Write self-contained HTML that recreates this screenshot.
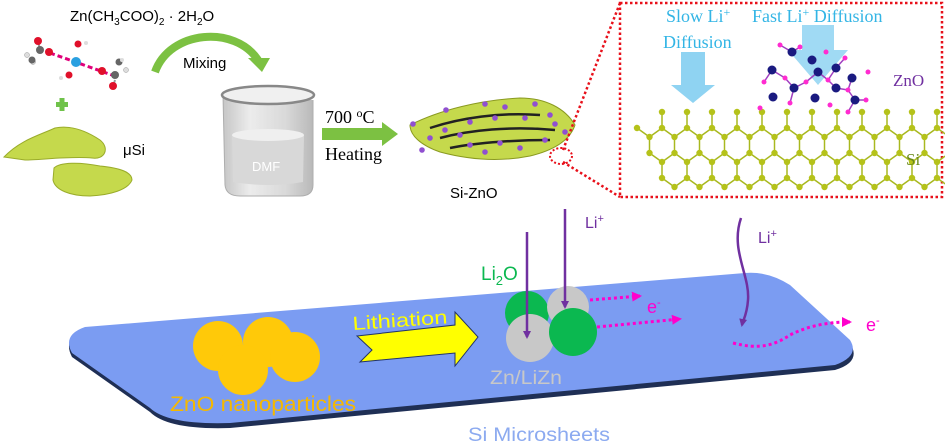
<!DOCTYPE html>
<html><head><meta charset="utf-8"><style>
html,body{margin:0;padding:0;background:#fff;}
svg{display:block;}
.a{font-family:"Liberation Sans",sans-serif;}
.t{font-family:"Liberation Serif",serif;}
</style></head><body>
<svg id="s" width="945" height="446" viewBox="0 0 945 446" xmlns="http://www.w3.org/2000/svg">
<defs>
<linearGradient id="gb" x1="0" x2="1"><stop offset="0" stop-color="#b8b8b8"/><stop offset=".3" stop-color="#e8e8e8"/><stop offset=".7" stop-color="#d0d0d0"/><stop offset="1" stop-color="#a8a8a8"/></linearGradient>
<marker id="pa" markerWidth="8" markerHeight="8" refX="6" refY="4" orient="auto" markerUnits="userSpaceOnUse"><path d="M0,0 L8,4 L0,8 Z" fill="#7030a0"/></marker>
<marker id="ma" markerWidth="10" markerHeight="10" refX="8" refY="5" orient="auto" markerUnits="userSpaceOnUse"><path d="M0,0 L10,5 L0,10 Z" fill="#ff00cc"/></marker>
</defs>

<text x="70" y="21" class="a" font-size="15" fill="#000">Zn(CH<tspan font-size="10" dy="4">3</tspan><tspan dy="-4">COO)</tspan><tspan font-size="10" dy="4">2</tspan><tspan dy="-4"> · 2H</tspan><tspan font-size="10" dy="4">2</tspan><tspan dy="-4">O</tspan></text>
<g>
<line x1="50" y1="53" x2="112" y2="75" stroke="#e0007a" stroke-width="3" stroke-dasharray="5,3"/>
<line x1="40" y1="50" x2="38" y2="41" stroke="#999" stroke-width="2"/>
<line x1="115" y1="80" x2="113" y2="87" stroke="#999" stroke-width="2"/>
<circle cx="38" cy="41" r="4" fill="#e0102a"/>
<circle cx="40" cy="50" r="4" fill="#666"/>
<circle cx="49" cy="52" r="4" fill="#e0102a"/>
<circle cx="27" cy="55" r="2.5" fill="#ddd" stroke="#999" stroke-width=".5"/>
<circle cx="33" cy="62" r="2.5" fill="#ddd" stroke="#999" stroke-width=".5"/>
<circle cx="32" cy="60" r="3.5" fill="#666"/>
<circle cx="76" cy="62" r="5" fill="#2aa0e0"/>
<circle cx="78" cy="44" r="3.5" fill="#e0102a"/>
<circle cx="86" cy="43" r="2" fill="#ddd"/>
<circle cx="69" cy="75" r="3.5" fill="#e0102a"/>
<circle cx="61" cy="78" r="2" fill="#ddd"/>
<circle cx="102" cy="71" r="4" fill="#e0102a"/>
<circle cx="115" cy="75" r="4" fill="#666"/>
<circle cx="113" cy="86" r="4" fill="#e0102a"/>
<circle cx="119" cy="62" r="3.5" fill="#666"/>
<circle cx="126" cy="70" r="2.5" fill="#ddd" stroke="#999" stroke-width=".5"/>
<circle cx="122" cy="60" r="2" fill="#ddd"/>
</g>
<rect x="56" y="102" width="12" height="5" fill="#6fc24a"/><rect x="59.5" y="98" width="5" height="13" fill="#6fc24a"/>
<path d="M4,157 C20,140 40,135 55,128 C70,125 85,130 100,140 C110,148 105,160 92,158 C70,156 40,160 25,160 Z" fill="#c5d94c" stroke="#9aac2a" stroke-width="1"/>
<path d="M54,168 C60,162 80,162 100,166 C120,168 132,172 132,180 C128,190 110,195 90,196 C70,196 55,190 53,180 Z" fill="#c5d94c" stroke="#9aac2a" stroke-width="1"/>
<text x="123" y="155" class="a" font-size="15">μSi</text>

<path d="M155,72 C170,30 235,25 258,60" fill="none" stroke="#7cc142" stroke-width="8"/>
<path d="M248,58 L270,58 L262,72 Z" fill="#7cc142"/>
<text x="183" y="68" class="a" font-size="15">Mixing</text>

<path d="M223,95 L225,185 Q226,196 240,196 L300,196 Q313,196 313,185 L313,100" fill="url(#gb)" opacity=".8" stroke="#999"/>
<ellipse cx="268" cy="95" rx="46" ry="9" fill="#f0f0f0" stroke="#888" stroke-width="2.5"/>
<path d="M232,135 Q268,128 304,135 L303,182 Q268,188 233,182 Z" fill="#d8d8d8"/>
<ellipse cx="268" cy="135" rx="36" ry="6" fill="#efefef"/>
<text x="252" y="171" class="a" font-size="13" fill="#fff">DMF</text>

<text x="325" y="123" class="t" font-size="18">700 <tspan font-size="12" dy="-6">o</tspan><tspan dy="6">C</tspan></text>
<rect x="322" y="128" width="62" height="12" fill="#7cc142"/>
<path d="M382,122 L398,134 L382,146 Z" fill="#7cc142"/>
<text x="325" y="160" class="t" font-size="18">Heating</text>

<path d="M410,125 C440,110 480,100 520,98 C545,98 565,108 575,125 C570,140 555,150 530,156 C500,162 470,160 440,152 C420,145 410,135 410,125 Z" fill="#c5d94c" stroke="#8a9a20"/>
<path d="M430,128 C460,118 500,112 540,115 M440,138 C470,130 510,126 555,130 M450,148 C480,142 520,140 550,140" stroke="#222" stroke-width="2.5" fill="none"/>
<g fill="#9050d0" id="pd"></g>
<text x="450" y="198" class="a" font-size="15">Si-ZnO</text>

<rect x="620" y="3" width="322" height="194" fill="none" stroke="#e8101a" stroke-width="2.5" stroke-dasharray="2.5,2.5"/>
<line x1="563" y1="150" x2="620" y2="3" stroke="#e8101a" stroke-width="2.5" stroke-dasharray="2.5,2.5"/>
<line x1="563" y1="162" x2="620" y2="197" stroke="#e8101a" stroke-width="2.5" stroke-dasharray="2.5,2.5"/>
<ellipse cx="561" cy="156" rx="11" ry="8" fill="none" stroke="#e8101a" stroke-width="2" stroke-dasharray="2,2"/>

<path d="M681,52 L705,52 L705,85 L715,85 L693,103 L671,85 L681,85 Z" fill="#8fd3f2"/>
<path d="M802,25 L834,25 L834,50 L848,50 L818,85 L788,50 L802,50 Z" fill="#8fd3f2" opacity=".85"/>
<g id="lat"></g>
<g id="zno"></g>
<text x="666" y="22" class="t" font-size="18" fill="#33b5e5">Slow Li<tspan font-size="12" dy="-6">+</tspan></text>
<text x="663" y="48" class="t" font-size="18" fill="#33b5e5">Diffusion</text>
<text x="752" y="22" class="t" font-size="18" fill="#33b5e5">Fast Li<tspan font-size="12" dy="-6">+</tspan><tspan dy="6"> Diffusion</tspan></text>
<text x="893" y="86" class="t" font-size="17" fill="#7030a0">ZnO</text>
<text x="906" y="165" class="t" font-size="17" fill="#6a8a1a">Si</text>

<path d="M85,330 L745,276 Q768,274 790,288 L850,343 Q862,362 835,370 L230,428 Q168,430 150,412 L72,357 Q62,338 85,330 Z" fill="#1f2f55"/>
<path d="M85,327 L745,273 Q768,271 790,285 L850,340 Q860,356 835,365 L230,423 Q168,425 150,408 L72,353 Q62,335 85,327 Z" fill="#7b9cf2"/>

<g fill="#ffc909">
<circle cx="218" cy="346" r="25"/><circle cx="268" cy="342" r="25"/><circle cx="295" cy="357" r="25"/><circle cx="243" cy="370" r="25"/>
</g>
<text x="170" y="411" class="a" font-size="21" fill="#f5b800" textLength="186" lengthAdjust="spacingAndGlyphs">ZnO nanoparticles</text>

<path d="M357,336 L455,325 L455,312 L478,337 L455,366 L455,353 L360,362 L372,350 Z" fill="#ffff00" stroke="#223366" stroke-width="1"/>
<text x="353" y="330" class="a" font-size="19" fill="#ffff00" transform="rotate(-4 353 330)" textLength="95" lengthAdjust="spacingAndGlyphs">Lithiation</text>

<circle cx="527" cy="313" r="22" fill="#0bb850"/>
<circle cx="568" cy="307" r="21" fill="#c8c8c8"/>
<circle cx="530" cy="338" r="24" fill="#c8c8c8"/>
<circle cx="573" cy="332" r="24" fill="#0bb850"/>
<text x="481" y="280" class="a" font-size="19" fill="#0bb850">Li<tspan font-size="13" dy="5">2</tspan><tspan dy="-5">O</tspan></text>
<text x="490" y="384" class="a" font-size="19" fill="#c8c8c8" textLength="72" lengthAdjust="spacingAndGlyphs">Zn/LiZn</text>

<line x1="527" y1="232" x2="527" y2="337" stroke="#7030a0" stroke-width="2.5" marker-end="url(#pa)"/>
<line x1="565" y1="209" x2="565" y2="307" stroke="#7030a0" stroke-width="2.5" marker-end="url(#pa)"/>
<text x="585" y="228" class="a" font-size="16" fill="#7030a0">Li<tspan font-size="11" dy="-6">+</tspan></text>
<path d="M741,218 C730,250 750,275 748,300 C747,315 743,320 742,325" fill="none" stroke="#7030a0" stroke-width="2.5" marker-end="url(#pa)"/>
<text x="758" y="243" class="a" font-size="16" fill="#7030a0">Li<tspan font-size="11" dy="-6">+</tspan></text>

<g stroke="#ff00cc" stroke-width="3" stroke-dasharray="3,3" fill="none">
<line x1="590" y1="300" x2="640" y2="296" marker-end="url(#ma)"/>
<line x1="597" y1="327" x2="680" y2="319" marker-end="url(#ma)"/>
<path d="M733,343 C760,350 775,345 790,335 C810,325 830,322 850,322" marker-end="url(#ma)"/>
</g>
<text x="647" y="313" class="a" font-size="18" fill="#ff00cc">e<tspan font-size="11" dy="-7">-</tspan></text>
<text x="866" y="331" class="a" font-size="18" fill="#ff00cc">e<tspan font-size="11" dy="-7">-</tspan></text>

<text x="468" y="441" class="a" font-size="19" fill="#8caaf0" textLength="142" lengthAdjust="spacingAndGlyphs">Si Microsheets</text>
</svg>
<script>
var NS="http://www.w3.org/2000/svg";
function el(p,t,a){var e=document.createElementNS(NS,t);for(var k in a)e.setAttribute(k,a[k]);p.appendChild(e);return e;}
var lat=document.getElementById("lat");
var col="#a8b820",at="#b5c21a";
var rows=[{y:128,x0:637,n:26},{y:153,x0:649.5,n:26},{y:178,x0:662,n:25}];
var R=[];
rows.forEach(function(r,ri){
 var prev=null,arr=[];
 for(var k=0;k<r.n;k++){
  var x=r.x0+k*12.5, y=r.y+(k%2?9:0);
  if(prev)el(lat,"line",{x1:prev[0],y1:prev[1],x2:x,y2:y,stroke:col,"stroke-width":1.5});
  prev=[x,y];arr.push([x,y,k]);
 }
 R.push(arr);
});
// vertical bonds: lower points of row r connect down to next row's upper point at same x
for(var r=0;r<2;r++){R[r].forEach(function(p){if(p[2]%2==1){R[r+1].forEach(function(q){if(q[2]%2==0&&Math.abs(q[0]-p[0])<1)el(lat,"line",{x1:p[0],y1:p[1],x2:q[0],y2:q[1],stroke:col,"stroke-width":1.5});});}});}
R[0].forEach(function(p){if(p[2]%2==0&&p[2]>0){el(lat,"line",{x1:p[0],y1:p[1],x2:p[0],y2:112,stroke:col,"stroke-width":1.5});el(lat,"circle",{cx:p[0],cy:112,r:3.2,fill:at});}});
R.forEach(function(a){a.forEach(function(p){el(lat,"circle",{cx:p[0],cy:p[1],r:3.2,fill:at});});});
var z=document.getElementById("zno");
var big=[[792,52],[812,60],[772,70],[818,72],[836,68],[852,78],[773,97],[815,98],[855,100],[794,88],[836,88]];
var small=[[780,45],[800,47],[826,52],[845,58],[868,72],[764,82],[785,78],[806,82],[828,80],[848,90],[866,100],[760,108],[790,103],[830,105],[848,112]];
big.forEach(function(a){small.forEach(function(b){var dx=a[0]-b[0],dy=a[1]-b[1];if(dx*dx+dy*dy<260)el(z,"line",{x1:a[0],y1:a[1],x2:b[0],y2:b[1],stroke:"#a040c0","stroke-width":1.5});});});
small.forEach(function(b){el(z,"circle",{cx:b[0],cy:b[1],r:2.5,fill:"#ff2bd0"});});
big.forEach(function(a){el(z,"circle",{cx:a[0],cy:a[1],r:4.5,fill:"#1a1a80"});});
var pd=document.getElementById("pd");
[[413,124],[446,110],[485,104],[495,118],[470,122],[445,130],[500,143],[525,118],[550,115],[565,132],[470,145],[520,148],[545,140],[430,138],[460,135],[505,107],[535,104],[485,152],[422,150],[555,124]].forEach(function(p){el(pd,"circle",{cx:p[0],cy:p[1],r:2.8});});
</script>
</body></html>
